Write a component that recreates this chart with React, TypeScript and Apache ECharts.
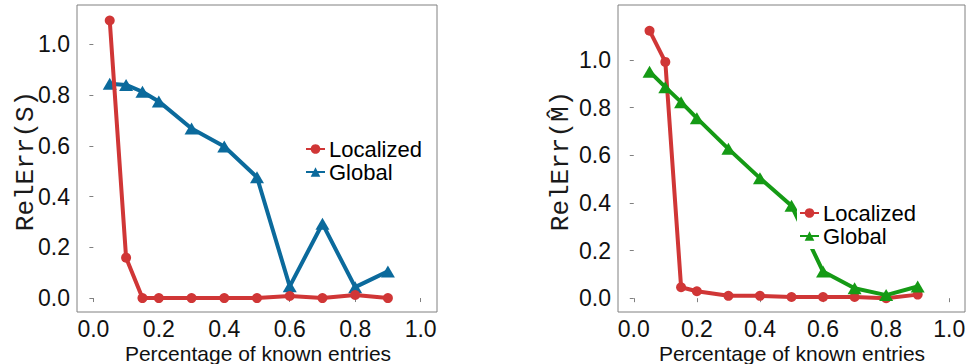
import React, { useEffect, useRef } from "react";
import * as echarts from "echarts";

const xs = [0.05, 0.1, 0.15, 0.2, 0.3, 0.4, 0.5, 0.6, 0.7, 0.8, 0.9];
const leftLocalized = [1.094, 0.159, 0.0, 0.0, 0.0, 0.0, 0.0, 0.008, 0.0, 0.012, 0.0];
const leftGlobal = [0.845, 0.84, 0.813, 0.775, 0.668, 0.597, 0.476, 0.046, 0.293, 0.043, 0.105];
const rightLocalized = [1.123, 0.992, 0.046, 0.029, 0.01, 0.01, 0.005, 0.005, 0.005, 0.0, 0.015];
const rightGlobal = [0.951, 0.886, 0.823, 0.756, 0.627, 0.504, 0.388, 0.112, 0.042, 0.013, 0.049];
const tickValues = [0, 0.2, 0.4, 0.6, 0.8, 1.0];
const xTitle = "Percentage of known entries";
const leftYTitle = "RelErr(S)";
const rightYTitle = "RelErr(M\u0302)";

const RED = "#d03636";
const BLUE = "#0b6a9c";
const GREEN = "#159a15";
const SANS = "'Liberation Sans', Arial, sans-serif";
const MONO = "'Liberation Mono', 'Courier New', monospace";

const pairs = (ys: number[]) => xs.map((x, i) => [x, ys[i]]);

function xAxisOpt(gridIndex: number) {
  return {
    type: "value",
    gridIndex,
    min: -0.05,
    max: 1.05,
    splitLine: { show: false },
    axisLine: { show: false },
    axisTick: { show: true, length: 4, lineStyle: { color: "#808080", width: 1 }, customValues: tickValues },
    axisLabel: {
      customValues: tickValues,
      formatter: (v: number) => v.toFixed(1),
      fontSize: 23,
      fontFamily: SANS,
      color: "#111",
      margin: 5,
    },
  };
}

function yAxisOpt(gridIndex: number, min: number, max: number) {
  return {
    type: "value",
    gridIndex,
    min,
    max,
    splitLine: { show: false },
    axisLine: { show: false },
    axisTick: { show: true, length: 4, lineStyle: { color: "#808080", width: 1 }, customValues: tickValues },
    axisLabel: {
      customValues: tickValues,
      formatter: (v: number) => v.toFixed(1),
      fontSize: 23,
      fontFamily: SANS,
      color: "#111",
      margin: 7,
    },
  };
}

function lineSeries(name: string, data: number[], color: string, symbol: string, size: any, axisIndex: number, z: number) {
  return {
    type: "line",
    name,
    data: pairs(data),
    xAxisIndex: axisIndex,
    yAxisIndex: axisIndex,
    symbol,
    symbolSize: size,
    showSymbol: true,
    z,
    lineStyle: { color, width: 4 },
    itemStyle: { color },
    emphasis: { disabled: true },
  };
}

export default function App() {
  const ref = useRef<HTMLDivElement>(null);
  useEffect(() => {
    if (!ref.current) return;
    const chart = echarts.init(ref.current, undefined, { renderer: "svg" });
    const legendCommon = {
      orient: "vertical",
      selectedMode: false,
      itemWidth: 19,
      itemHeight: 12,
      itemGap: 1,
      textStyle: { fontSize: 22, fontFamily: SANS, color: "#000", padding: [0, 0, 0, -1] },
    };
    chart.setOption({
      animation: false,
      grid: [
        { left: 77, top: 5, width: 360, height: 307, show: true, borderColor: "#808080", borderWidth: 1, backgroundColor: "#fff" },
        { left: 618, top: 5, width: 347, height: 307, show: true, borderColor: "#808080", borderWidth: 1, backgroundColor: "#fff" },
      ],
      xAxis: [xAxisOpt(0), xAxisOpt(1)],
      yAxis: [yAxisOpt(0, -0.055, 1.155), yAxisOpt(1, -0.058, 1.231)],
      legend: [
        {
          ...legendCommon,
          left: 305,
          top: 138,
          padding: 0,
          data: ["Localized", "Global"],
        },
        {
          ...legendCommon,
          left: 797,
          top: 200,
          padding: [2, 2, 2, 2],
          backgroundColor: "#fff",
          data: ["Localized (M)", "Global (M)"],
          formatter: (n: string) => n.replace(" (M)", ""),
        },
      ],
      series: [
        lineSeries("Global", leftGlobal, BLUE, "triangle", [14, 12], 0, 2),
        lineSeries("Localized", leftLocalized, RED, "circle", 10, 0, 3),
        lineSeries("Localized (M)", rightLocalized, RED, "circle", 10, 1, 2),
        lineSeries("Global (M)", rightGlobal, GREEN, "triangle", [14, 12], 1, 3),
      ],
      graphic: [
        {
          type: "text",
          x: 26,
          y: 161,
          rotation: Math.PI / 2,
          style: { text: leftYTitle, font: `26px ${MONO}`, fill: "#1a1a1a", textAlign: "center", textVerticalAlign: "middle" },
        },
        {
          type: "text",
          x: 561,
          y: 161,
          rotation: Math.PI / 2,
          style: { text: rightYTitle, font: `26px ${MONO}`, fill: "#1a1a1a", textAlign: "center", textVerticalAlign: "middle" },
        },
        {
          type: "text",
          x: 258,
          y: 353,
          style: { text: xTitle, font: `21px ${SANS}`, fill: "#111", textAlign: "center", textVerticalAlign: "middle" },
        },
        {
          type: "text",
          x: 792,
          y: 353,
          style: { text: xTitle, font: `21px ${SANS}`, fill: "#111", textAlign: "center", textVerticalAlign: "middle" },
        },
      ],
    });
    return () => chart.dispose();
  }, []);
  return <div ref={ref} style={{ position: "absolute", left: 0, top: 0, width: 970, height: 364, background: "#fff" }} />;
}
